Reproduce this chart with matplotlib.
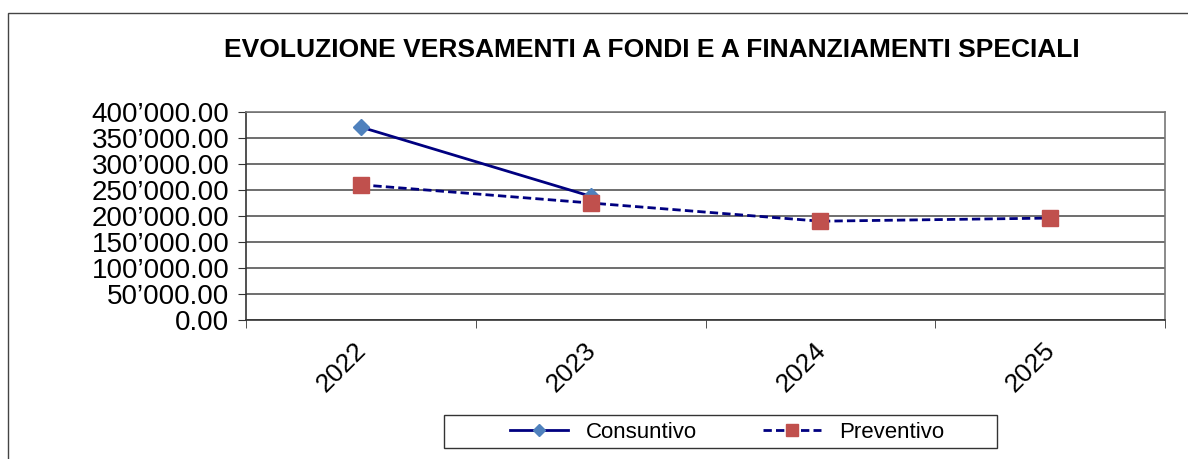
import matplotlib.pyplot as plt
import numpy as np
from matplotlib.patches import Rectangle
from matplotlib.ticker import FuncFormatter, FixedLocator
from matplotlib.transforms import ScaledTranslation

plt.rcParams["font.family"] = ["Liberation Sans", "DejaVu Sans"]

years = ["2022", "2023", "2024", "2025"]
consuntivo = [371000, 238000]
preventivo = [260000, 225000, 190000, 196000]

LINE = "#000080"
BLUE = "#4F81BD"
RED = "#C0504D"


def fmt_chf(v, pos):
    s = f"{v:,.2f}"
    return s.replace(",", "\u2019")


fig = plt.figure(figsize=(11.88, 4.59), dpi=100)

# outer chart frame
fig.patches.append(Rectangle((8 / 1188, -0.05), (1200 - 8) / 1188, 1.05 - 13 / 459,
                             transform=fig.transFigure, fill=False,
                             edgecolor="#444444", linewidth=1.0))

ax = fig.add_axes([246 / 1188, 1 - 320 / 459, (1165 - 246) / 1188, (320 - 112) / 459])

x = np.arange(len(years))
ax.plot(x[:len(consuntivo)], consuntivo, color=LINE, linewidth=2,
        marker="D", markersize=8, markerfacecolor=BLUE, markeredgecolor=BLUE,
        label="Consuntivo", zorder=3)
ax.plot(x, preventivo, color=LINE, linewidth=2, linestyle=(0, (3, 1.5)),
        marker="s", markersize=11, markerfacecolor=RED, markeredgecolor=RED,
        label="Preventivo", zorder=4)

ax.set_xlim(-0.5, len(years) - 0.5)
ax.set_ylim(0, 400000)
ax.yaxis.set_major_locator(FixedLocator(np.arange(0, 400001, 50000)))
ax.yaxis.set_major_formatter(FuncFormatter(fmt_chf))
ax.grid(axis="y", color="#555555", linewidth=1.2)
ax.set_axisbelow(True)

ax.set_xticks(x)
ax.set_xticklabels(years, rotation=45, ha="right", va="top",
                   rotation_mode="anchor", fontsize=19)
ax.tick_params(axis="x", length=0, pad=6)
shift = ScaledTranslation(-7 / 100, -10 / 100, fig.dpi_scale_trans)
for lbl in ax.get_xticklabels():
    lbl.set_transform(lbl.get_transform() + shift)
ax.set_xticks(np.arange(-0.5, len(years)), minor=True)
ax.tick_params(axis="x", which="minor", length=6, color="#333333", direction="out")
ax.tick_params(axis="y", labelsize=20, length=6, color="#333333", pad=6)

for side in ["top", "right"]:
    ax.spines[side].set_color("#777777")
    ax.spines[side].set_linewidth(1.2)
for side in ["left", "bottom"]:
    ax.spines[side].set_color("#333333")
    ax.spines[side].set_linewidth(1.2)

fig.text(652 / 1188, 1 - 50 / 459, "EVOLUZIONE VERSAMENTI A FONDI E A FINANZIAMENTI SPECIALI",
         ha="center", va="center", fontsize=19, fontweight="bold")

# legend frame drawn separately to match the wide padding
fig.patches.append(Rectangle((444 / 1188, 1 - 448 / 459), (997 - 444) / 1188, 33 / 459,
                             transform=fig.transFigure, fill=False,
                             edgecolor="#333333", linewidth=1.0))
leg = fig.legend(loc="center", bbox_to_anchor=(727 / 1188, 1 - 432 / 459), ncol=2,
                 fontsize=16, frameon=False, handlelength=2.6, columnspacing=3,
                 handletextpad=0.8, markerscale=0.8)

fig.savefig("out.png", dpi=100)
